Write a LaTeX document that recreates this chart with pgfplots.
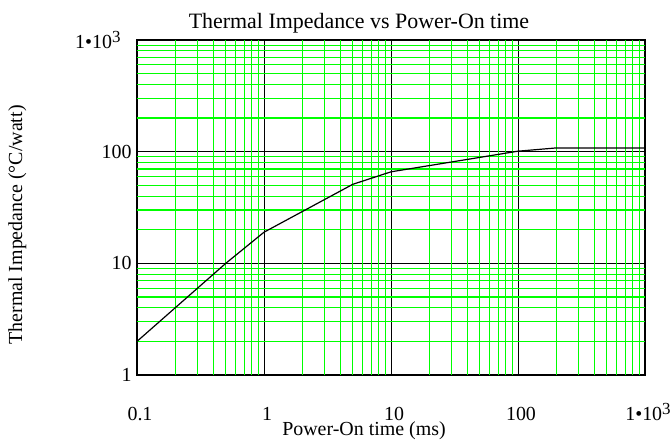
\documentclass[border=0pt]{standalone}
\usepackage{fontspec}
\setmainfont{Liberation Serif}
\usepackage{pgfplots}
\pgfplotsset{compat=1.18}
\definecolor{gridgreen}{RGB}{0,255,0}
\newcommand{\kilo}{1{\textbullet}10\raisebox{0.6ex}{\fontsize{17}{17}\selectfont 3}}
\begin{document}
\begin{tikzpicture}[x=1bp,y=1bp]
\path[use as bounding box] (0,0) rectangle (670,-441);
\begin{axis}[
  at={(137bp,-375bp)}, anchor=south west,
  scale only axis, width=508bp, height=335bp,
  xmode=log, ymode=log,
  xmin=0.1, xmax=1000, ymin=1, ymax=1000,
  xtick={0.1,1,10,100,1000},
  xticklabels={0.1,1,10,100,\kilo},
  ytick={1,10,100,1000},
  yticklabels={1,10,100,\kilo\hspace*{11bp}},
  minor xtick={}, minor ytick={},
  grid=major,
  major grid style={black, line width=1bp},
  major tick length=0pt, minor tick length=0pt,
  axis line style={black, line width=1.3bp},
  xticklabel style={font=\fontsize{20}{24}\selectfont, anchor=base, yshift=-45bp, xshift=3bp},
  yticklabel style={font=\fontsize{20}{24}\selectfont, anchor=east, xshift=-2bp},
  /pgf/number format/assume math mode=true,
]
\pgfplotsinvokeforeach{0.2,0.3,0.4,0.5,0.6,0.7,0.8,0.9,2,3,4,5,6,7,8,9,20,30,40,50,60,70,80,90,200,300,400,500,600,700,800,900}{
  \draw[gridgreen, line width=1.2bp] (axis cs:#1,1) -- (axis cs:#1,1000);
}
\pgfplotsinvokeforeach{2,3,4,5,6,7,8,9,20,30,40,50,60,70,80,90,200,300,400,500,600,700,800,900}{
  \draw[gridgreen, line width=1.2bp] (axis cs:0.1,#1) -- (axis cs:1000,#1);
}
\addplot[black, line width=1.2bp, mark=none] coordinates {
  (0.1,2) (0.5,10) (1,19) (5,51) (10,66) (100,101) (200,108) (1000,108)
};
\end{axis}
\node[font=\fontsize{22}{26}\selectfont, anchor=base] at (359,-29) {Thermal Impedance vs Power-On time};
\node[font=\fontsize{20}{24}\selectfont, anchor=base] at (364,-435) {Power-On time (ms)};
\node[font=\fontsize{20}{24}\selectfont, anchor=base, rotate=90] at (22,-225) {Thermal Impedance (\textdegree C/watt)};
\end{tikzpicture}
\end{document}
